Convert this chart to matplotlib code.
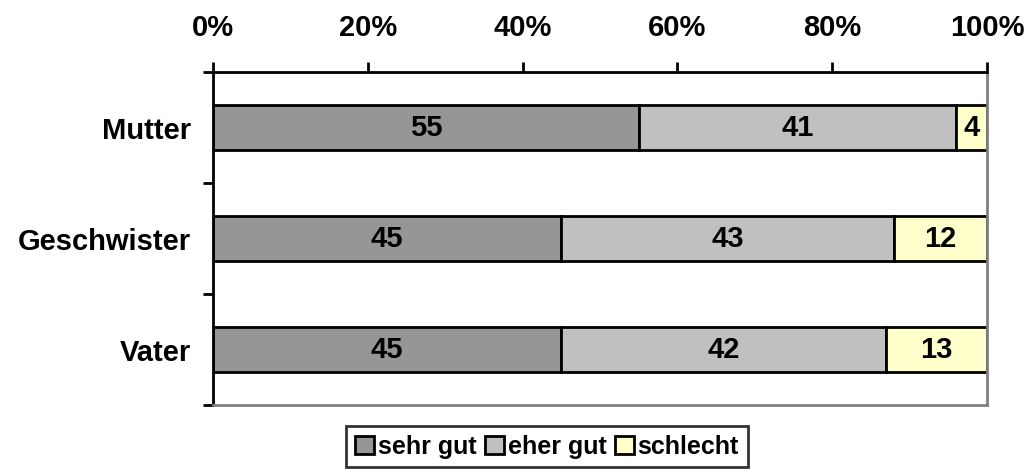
import matplotlib.pyplot as plt
import numpy as np
from matplotlib.ticker import FixedLocator, PercentFormatter

plt.rcParams['font.family'] = ['Liberation Sans', 'DejaVu Sans']
plt.rcParams['font.weight'] = 'bold'

# data, bottom to top
categories = ['Vater', 'Geschwister', 'Mutter']
sehr_gut = [45, 45, 55]
eher_gut = [42, 43, 41]
schlecht = [13, 12, 4]
series_names = ['sehr gut', 'eher gut', 'schlecht']
colors = ['#969696', '#C0C0C0', '#FFFFCC']

fs = 21

fig = plt.figure(figsize=(10.26, 4.73), dpi=100)
ax = fig.add_axes([213 / 1026, 1 - 405 / 473, 774 / 1026, 333 / 473])

y = np.arange(len(categories))
left = np.zeros(len(categories))
for vals, name, col in zip([sehr_gut, eher_gut, schlecht], series_names, colors):
    bars = ax.barh(y, vals, left=left, height=0.405, color=col,
                   edgecolor='black', linewidth=2, label=name)
    for b, v in zip(bars, vals):
        ax.text(b.get_x() + b.get_width() / 2, b.get_y() + b.get_height() / 2,
                str(v), ha='center', va='center', fontsize=fs, fontweight='bold')
    left += np.array(vals)

ax.set_xlim(0, 100)
ax.set_ylim(-0.5, len(categories) - 0.5)

ax.xaxis.tick_top()
ax.set_xticks([0, 20, 40, 60, 80, 100])
ax.xaxis.set_major_formatter(PercentFormatter(decimals=0))
ax.tick_params(axis='x', direction='out', length=7, width=2, pad=14.5, labelsize=fs)

ax.set_yticks(y)
ax.set_yticklabels(categories)
ax.tick_params(axis='y', which='major', length=0, pad=16, labelsize=fs)
ax.yaxis.set_minor_locator(FixedLocator(np.arange(-0.5, len(categories), 1)))
ax.tick_params(axis='y', which='minor', direction='out', length=7, width=2)

for s in ['top', 'left']:
    ax.spines[s].set_color('black')
    ax.spines[s].set_linewidth(2)
for s in ['right', 'bottom']:
    ax.spines[s].set_color('#808080')
    ax.spines[s].set_linewidth(2)

leg = fig.legend(loc='center', bbox_to_anchor=(547 / 1026, 1 - 446.5 / 473), ncol=3,
                 frameon=True, fancybox=False, edgecolor='black', fontsize=18,
                 handlelength=0.75, handleheight=0.75, handletextpad=0.15,
                 columnspacing=0.35, borderpad=0.35, borderaxespad=0)
leg.get_frame().set_linewidth(2)
for h in leg.legend_handles:
    h.set_linewidth(2)

fig.savefig('out.png', dpi=100)
